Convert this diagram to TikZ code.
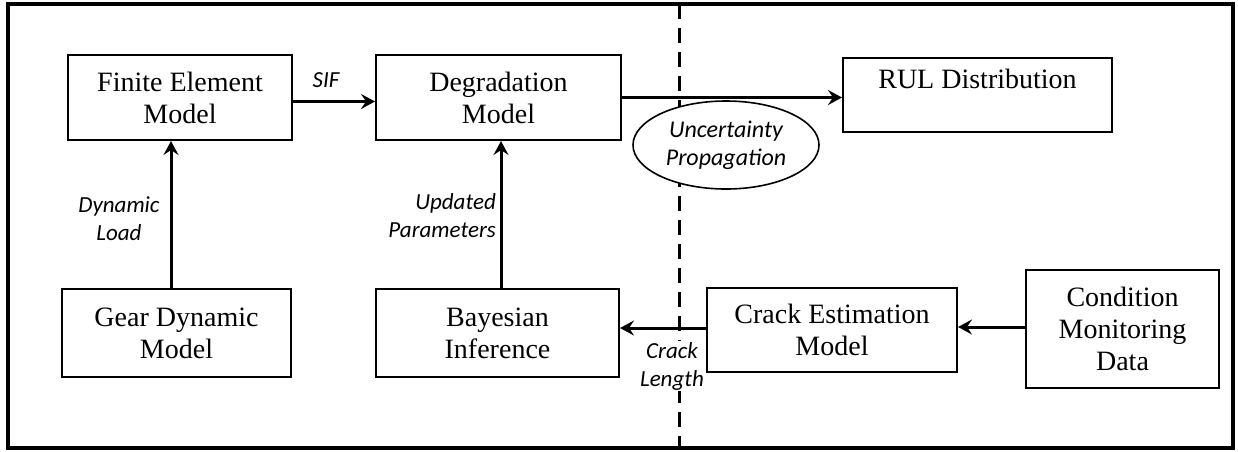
\documentclass[tikz,border=0pt]{standalone}
\usepackage{fontspec}
\setmainfont{Liberation Serif}
\newfontfamily\labfont{Carlito}
\usetikzlibrary{arrows.meta,shapes.geometric}
\begin{document}
\begin{tikzpicture}[x=1pt,y=-1pt,
  box/.style={draw,line width=2pt,fill=white,align=center,inner sep=0pt,
    font=\fontsize{28}{32}\selectfont},
  arr/.style={line width=3pt,-{Stealth[length=14pt,width=15pt,inset=5pt]}},
  lab/.style={font=\labfont\itshape\fontsize{23}{28}\selectfont,align=center,inner sep=1pt,fill=white}
]
\useasboundingbox (0,0) rectangle (1238,451);
\node[draw,line width=3.5pt,minimum width=1225pt,minimum height=444pt,inner sep=0pt] (frame) at (620.5,226) {};
\draw[line width=3pt,dash pattern=on 15pt off 9pt] (679,4) coordinate (dtop) -- (679,448) coordinate (dbot);
\node[box,minimum width=224pt,minimum height=85pt] (fe) at (180,97.5) {Finite Element\\Model};
\node[box,minimum width=229pt,minimum height=88pt] (gd) at (176.5,333) {Gear Dynamic\\Model};
\node[box,minimum width=245pt,minimum height=85pt] (dm) at (498.5,97.5) {Degradation\\Model};
\node[box,minimum width=243pt,minimum height=88pt] (bi) at (497.5,333) {Bayesian\\Inference};
\node[box,minimum width=269pt,minimum height=74pt] (rul) at (977.5,95) {RUL Distribution\\\mbox{}};
\node[box,minimum width=250pt,minimum height=84pt] (ce) at (832,330) {Crack Estimation\\Model};
\node[box,minimum width=193pt,minimum height=118pt] (cmd) at (1122.5,329) {Condition\\Monitoring\\Data};
\node[draw,ellipse,line width=1.6pt,fill=white,minimum width=186pt,minimum height=88pt,inner sep=0pt,
  font=\labfont\itshape\fontsize{24}{28}\selectfont,align=center] (up) at (726,145) {Uncertainty\\Propagation};
\draw[arr] ([xshift=-5.5pt]gd.north) -- ([xshift=-9pt]fe.south);
\draw[arr] ([yshift=-4pt]fe.east) -- ([yshift=-4pt]fe.east -| dm.west);
\draw[arr] (dm.east) -- (dm.east -| rul.west);
\draw[arr] ([xshift=3.5pt]bi.north) -- ([xshift=2.5pt]dm.south);
\draw[arr] ([yshift=2pt]ce.west) -- ([yshift=2pt]ce.west -| bi.east);
\draw[arr] ([yshift=2pt]cmd.west) -- ([yshift=2pt]cmd.west -| ce.east);
\node[lab,fill=none] (sif) at (326,80) {SIF};
\node[lab] (dl) at (119,219) {Dynamic\\Load};
\node[lab,align=right,anchor=east] (upd) at (497,216) {Updated\\Parameters};
\node[lab] (cl) at (672,366) {Crack\\Length};
\end{tikzpicture}
\end{document}
